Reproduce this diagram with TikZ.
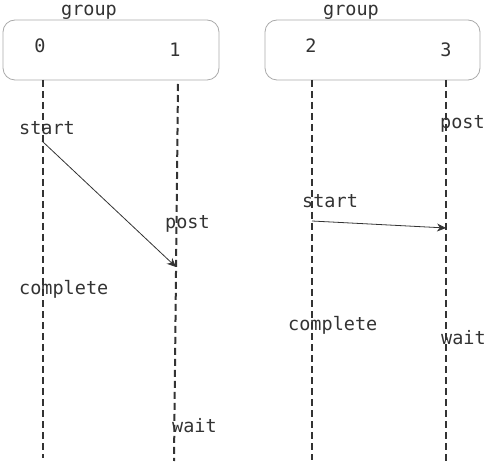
\documentclass[tikz,border=0pt]{standalone}
\usepackage{fontspec}
\setmonofont{DejaVu Sans Mono}
\usetikzlibrary{arrows.meta}
\definecolor{ink}{HTML}{333333}
\definecolor{boxgray}{HTML}{AAAAAA}
\tikzset{
  grp/.style={draw=boxgray, line width=0.8pt, rounded corners=12pt, fill=white},
  lbl/.style={font=\ttfamily\fontsize{18.5}{22}\selectfont, text=ink, inner sep=0pt},
  life/.style={draw=ink, line width=2pt, dash pattern=on 7pt off 4pt},
  msg/.style={draw=ink, line width=0.8pt, -{Stealth[length=9pt,width=8pt]}}
}
\begin{document}
\begin{tikzpicture}[x=1pt,y=-1pt]
\useasboundingbox (0,0) rectangle (487,462);
% group boxes
\node[grp, minimum width=216pt, minimum height=60pt] (g1) at (111,50) {};
\node[grp, minimum width=215pt, minimum height=60pt] (g2) at (372.5,50) {};
\node[lbl] (gl1) at (89,12) {group};
\node[lbl] (gl2) at (351,12) {group};
\node[lbl] (n0) at (40,46) {0};
\node[lbl] (n1) at (175,50) {1};
\node[lbl] (n2) at (311,46) {2};
\node[lbl] (n3) at (446,50) {3};
% lifelines
\coordinate (a0) at (43,80);  \coordinate (b0) at (43,458);
\coordinate (a1) at (178,84); \coordinate (b1) at (174,461);
\coordinate (a2) at (312,80); \coordinate (b2) at (312,460);
\coordinate (a3) at (446,80); \coordinate (b3) at (446,461);
\draw[life] (a0) -- (b0);
\draw[life] (a1) -- (b1);
\draw[life] (a2) -- (b2);
\draw[life] (a3) -- (b3);
% labels
\node[lbl, anchor=west] (s1) at (19,128) {start};
\node[lbl, anchor=west] (c1) at (19,289) {complete};
\node[lbl, anchor=west] (p1) at (165,224) {post};
\node[lbl, anchor=west] (w1) at (172,426) {wait};
\node[lbl, anchor=west] (p2) at (440,124) {post};
\node[lbl, anchor=west] (s2) at (302,201) {start};
\node[lbl, anchor=west] (c2) at (288,325) {complete};
\node[lbl, anchor=west] (w2) at (441,338) {wait};
% messages
\coordinate (m1a) at (42,141); \coordinate (m1b) at (176,267);
\coordinate (m2a) at (312,221); \coordinate (m2b) at (446,228);
\draw[msg] (m1a) -- (m1b);
\draw[msg] (m2a) -- (m2b);
\end{tikzpicture}
\end{document}
